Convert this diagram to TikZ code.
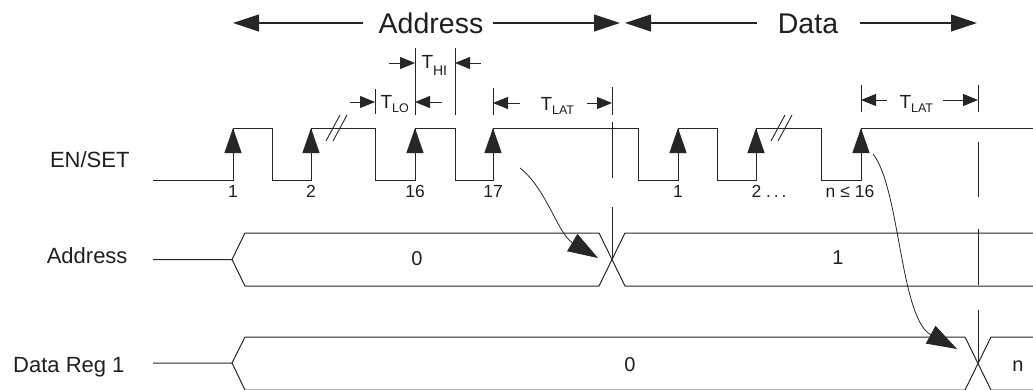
\documentclass[tikz,border=0pt]{standalone}
\usepackage{fontspec}
\setmainfont{Liberation Sans}
\usetikzlibrary{arrows.meta}
\newcommand\Tsub[1]{T\raisebox{-4pt}{\fontsize{12.5}{12.5}\selectfont #1}}
\begin{document}
\begin{tikzpicture}[x=1pt,y=-1pt,line width=1pt,color=black!85,
  every node/.style={inner sep=0pt, text=black!88},
  hdr/.style={font=\fontsize{28.5}{28.5}\selectfont, anchor=base},
  lbl/.style={font=\fontsize{22}{22}\selectfont, anchor=base east},
  num/.style={font=\fontsize{17.5}{17.5}\selectfont, anchor=base},
  val/.style={font=\fontsize{20}{20}\selectfont, anchor=base},
  tlab/.style={font=\fontsize{19}{19}\selectfont, anchor=base west},
  edgetip/.style={-{Triangle[length=25pt,width=17pt]}},
  hdrarrow/.style={-{Triangle[length=26pt,width=17pt]}, line width=1.1pt},
  dimarrow/.style={-{Triangle[length=15pt,width=12pt]}},
  curvearrow/.style={-{Triangle[length=30pt,width=20pt]}, line width=0.8pt},
  sig/.style={line width=1pt, line join=miter},
  tick/.style={line width=1pt},
]
\useasboundingbox (0,0) rectangle (1033,389);
\clip (0,0) rectangle (1033,389);

% ---------- headers ----------
\node[hdr] (haddr) at (431,33) {Address};
\node[hdr] (hdata) at (808,33) {Data};
\coordinate (aL0) at (363,23); \coordinate (aL1) at (233,23);
\coordinate (aR0) at (493,23); \coordinate (aR1) at (620,23);
\coordinate (dL0) at (757,23); \coordinate (dL1) at (625,23);
\coordinate (dR0) at (860,23); \coordinate (dR1) at (977,23);
\draw[hdrarrow] (aL0) -- (aL1);
\draw[hdrarrow] (aR0) -- (aR1);
\draw[hdrarrow] (dL0) -- (dL1);
\draw[hdrarrow] (dR0) -- (dR1);

% ---------- row labels ----------
\node[lbl] (lEN) at (130,167) {EN/SET};
\node[lbl] (lAD) at (128,263) {Address};
\node[lbl] (lDR) at (125,372) {Data Reg 1};

% ---------- EN/SET waveform ----------
\draw[sig] (153,180) -- (233,180) -- (233,128) -- (272,128) -- (272,180)
  -- (311,180) -- (311,128) -- (375,128) -- (375,180) -- (415,180)
  -- (415,128) -- (455,128) -- (455,180) -- (493,180) -- (493,128)
  -- (638,128) -- (638,180) -- (678,180) -- (678,128) -- (717,128)
  -- (717,180) -- (756,180) -- (756,128) -- (821,128) -- (821,180)
  -- (861,180) -- (861,128) -- (1034,128);
\foreach \x in {233,311,415,493,678,756,861}
  \draw[edgetip] (\x,180) -- (\x,128);
% break marks
\draw[line width=0.9pt] (326,141) -- (340,115);
\draw[line width=0.9pt] (333,141) -- (347,115);
\draw[line width=0.9pt] (771,141) -- (785,115);
\draw[line width=0.9pt] (778,141) -- (792,115);

% edge numbers
\node[num] (n1) at (233,197) {1};
\node[num] (n2) at (311,197) {2};
\node[num] (n16) at (415,197) {16};
\node[num] (n17) at (493,197) {17};
\node[num] (m1) at (678,197) {1};
\node[num,anchor=base west] (m2) at (751,197) {2 .\,.\,.};
\node[num] (mn) at (850,197) {n ≤ 16};

% ---------- timing marks ----------
\draw[tick] (375,89) -- (375,114);
\draw[tick] (415,48) -- (415,115);
\draw[tick] (455,48) -- (455,115);
\draw[tick] (493,88) -- (493,115);
\draw[tick] (612,87) -- (612,115);
\draw[tick] (612,122) -- (612,178);
\draw[tick] (612,207) -- (612,259.5);
\draw[tick] (861,85) -- (861,112);
\draw[tick] (978,85) -- (978,112);
\draw[tick] (978,142) -- (978,197);
\draw[tick] (978,229) -- (978,285);
\draw[tick] (978,310) -- (978,363);

% T_LO
\coordinate (lo1) at (375,102); \coordinate (lo2) at (415,102);
\draw[dimarrow] (350,102) -- (lo1);
\draw[dimarrow] (442,102) -- (lo2);
\node[tlab] (tlo) at (380,108) {\Tsub{LO}};
% T_HI
\coordinate (hi1) at (415,63); \coordinate (hi2) at (455,63);
\draw[dimarrow] (389,63) -- (hi1);
\draw[dimarrow] (481,63) -- (hi2);
\node[tlab] (thi) at (421,68) {T\raisebox{-7pt}{\fontsize{14}{14}\selectfont HI}};
% T_LAT 1
\coordinate (la1) at (493,103); \coordinate (la2) at (612,103);
\draw[dimarrow] (520,103) -- (la1);
\draw[dimarrow] (587,103) -- (la2);
\node[tlab] (tlat1) at (540,110) {\Tsub{LAT}};
% T_LAT 2
\coordinate (lb1) at (861,100); \coordinate (lb2) at (978,100);
\draw[dimarrow] (887,100) -- (lb1);
\draw[dimarrow] (943,100) -- (lb2);
\node[tlab] (tlat2) at (899,108) {\Tsub{LAT}};

% ---------- Address bus ----------
\draw[sig] (153,259.5) -- (232,259.5) -- (245,233) -- (599,233) -- (625,286) -- (1034,286);
\draw[sig] (232,259.5) -- (245,286) -- (599,286) -- (625,233) -- (1034,233);
\node[val] (a0) at (417,265) {0};
\node[val] (a1) at (838,264) {1};

% ---------- Data Reg 1 bus ----------
\draw[sig] (153,363) -- (232,363) -- (245,337) -- (965,337) -- (991,390) -- (1034,390);
\draw[sig] (232,363) -- (245,390) -- (965,390) -- (991,337) -- (1034,337);
\node[val] (d0) at (630,371) {0};
\node[val] (dn) at (1018,371) {n};

% ---------- causal arrows ----------
\coordinate (c1s) at (520,168); \coordinate (c1e) at (598,258);
\coordinate (c2s) at (873,154); \coordinate (c2e) at (957,349);
\draw[curvearrow] (c1s) .. controls (546,188) and (558,234) .. (c1e);
\draw[curvearrow] (c2s) .. controls (900,188) and (900,318) .. (c2e);
\end{tikzpicture}
\end{document}
